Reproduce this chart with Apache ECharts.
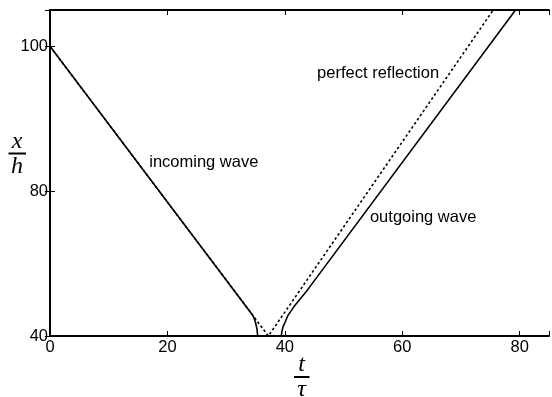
<!DOCTYPE html>
<html>
<head>
<meta charset="utf-8">
<script src="https://cdn.jsdelivr.net/npm/echarts@6/dist/echarts.min.js"></script>
<style>
  html, body { margin: 0; padding: 0; background: #fff; }
  #chart-container { width: 552px; height: 397px; }
</style>
</head>
<body>
<div id="chart-container"></div>
<script>
// data: [t/tau, x/h]
var incomingWave = [[0, 100], [34.3, 63.1], [34.7, 62.6], [35.0, 61.9], [35.25, 61.0], [35.38, 60.0]];
var perfectReflection = [[0, 100], [37.2, 60], [75.5, 105]];
var outgoingWave = [[39.4, 60], [39.5, 60.6], [39.7, 61.3], [40.1, 62.0], [40.5, 62.8], [41.0, 63.4], [41.7, 64.2], [43.9, 66.4], [79.3, 105]];

var xTicks = [0, 20, 40, 60, 80];
var yTickValues = [60, 80, 100];
var yTickLabels = ['40', '80', '100'];

var notes = [
  { name: 'incoming wave', value: [16.9, 83.9] },
  { name: 'perfect reflection', value: [45.5, 96.3] },
  { name: 'outgoing wave', value: [54.5, 76.3] }
];

var dom = document.getElementById('chart-container');
var myChart = echarts.init(dom, null, { renderer: 'canvas' });

var font = 'Liberation Sans';
var tickStyle = { show: true, inside: true, length: 5, lineStyle: { color: '#000', width: 1 } };
var lineStyleAxis = { show: true, lineStyle: { color: '#000', width: 2 } };

var option = {
  animation: false,
  backgroundColor: '#fff',
  grid: { left: 50, top: 10, width: 503, height: 326, containLabel: false },
  xAxis: [
    {
      type: 'value', min: 0, max: 85, interval: 20, position: 'bottom',
      axisLine: lineStyleAxis, axisTick: tickStyle, splitLine: { show: false },
      axisLabel: {
        color: '#000', fontFamily: font, fontSize: 16.5, margin: 3,
        formatter: function (v) { return xTicks.indexOf(v) >= 0 ? String(v) : ''; }
      }
    },
    {
      type: 'value', min: 0, max: 85, interval: 20, position: 'top',
      axisLine: lineStyleAxis, axisTick: tickStyle, splitLine: { show: false },
      axisLabel: { show: false }
    }
  ],
  yAxis: [
    {
      type: 'value', min: 60, max: 105, interval: 20, position: 'left',
      axisLine: lineStyleAxis, axisTick: tickStyle, splitLine: { show: false },
      axisLabel: {
        color: '#000', fontFamily: font, fontSize: 16.5, margin: 2,
        formatter: function (v) {
          var i = yTickValues.indexOf(v);
          return i >= 0 ? yTickLabels[i] : '';
        }
      }
    },
    {
      type: 'value', min: 60, max: 105, interval: 20, position: 'right',
      axisLine: { show: false }, axisTick: tickStyle, splitLine: { show: false },
      axisLabel: { show: false }
    }
  ],
  series: [
    {
      name: 'perfect reflection', type: 'line', data: perfectReflection,
      showSymbol: false, symbol: 'none', z: 2,
      lineStyle: { color: '#000', width: 1.6, type: [2.5, 2.5] }
    },
    {
      name: 'incoming wave', type: 'line', data: incomingWave,
      showSymbol: false, symbol: 'none', z: 3,
      lineStyle: { color: '#000', width: 1.6 }
    },
    {
      name: 'outgoing wave', type: 'line', data: outgoingWave,
      showSymbol: false, symbol: 'none', z: 3,
      lineStyle: { color: '#000', width: 1.6 }
    },
    {
      name: 'notes', type: 'scatter', data: notes, symbolSize: 0, z: 4,
      itemStyle: { opacity: 1, color: '#000' },
      label: {
        show: true, position: 'right', distance: 0, opacity: 1,
        color: '#000', fontFamily: font, fontSize: 16.5,
        formatter: function (p) { return p.name; }
      }
    }
  ],
  graphic: [
    { type: 'text', style: { x: 17, y: 142, text: 'x', font: 'italic 24px "Liberation Serif"', fill: '#000', align: 'center', verticalAlign: 'middle' } },
    { type: 'line', shape: { x1: 8.5, y1: 153.5, x2: 26, y2: 153.5 }, style: { stroke: '#000', lineWidth: 2 } },
    { type: 'text', style: { x: 17, y: 167, text: 'h', font: 'italic 24px "Liberation Serif"', fill: '#000', align: 'center', verticalAlign: 'middle' } },
    { type: 'text', style: { x: 301.5, y: 365, text: 't', font: 'italic 24px "Liberation Serif"', fill: '#000', align: 'center', verticalAlign: 'middle' } },
    { type: 'line', shape: { x1: 294, y1: 377, x2: 309.5, y2: 377 }, style: { stroke: '#000', lineWidth: 2 } },
    { type: 'text', style: { x: 301.5, y: 389.5, text: 'τ', font: 'italic 24px "Liberation Serif"', fill: '#000', align: 'center', verticalAlign: 'middle' } }
  ]
};

myChart.setOption(option);
window.addEventListener('resize', myChart.resize);
</script>
</body>
</html>
